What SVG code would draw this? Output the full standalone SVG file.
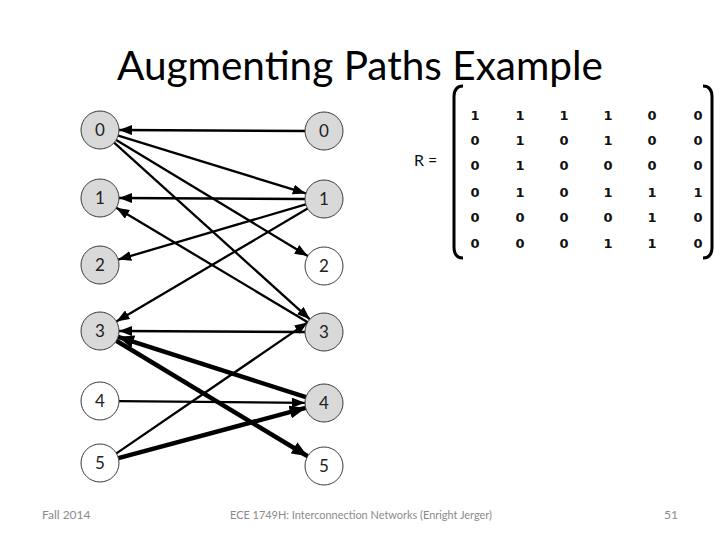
<svg xmlns="http://www.w3.org/2000/svg" width="720" height="540" viewBox="0 0 720 540">
<style>
.node circle{stroke:#3a3a3a;stroke-width:1}
.sh{fill:#d9d9d9}
.wh{fill:#ffffff}
.node text{font-family:Lato,"Open Sans","Liberation Sans",sans-serif;font-size:17px;fill:#222;text-anchor:middle}
.e{stroke:#000;stroke-width:2.3;fill:none;marker-end:url(#a)}
.t{stroke:#000;stroke-width:4.5;fill:none;marker-end:url(#b)}
.m text{font-family:"DejaVu Sans",Verdana,sans-serif;font-size:13px;font-weight:bold;fill:#111;text-anchor:middle}
.f{font-family:Lato,"Open Sans","Liberation Sans",sans-serif;font-size:12px;fill:#8a8a8a}
.r{font-family:Lato,"Open Sans","Liberation Sans",sans-serif;font-size:16px;fill:#111}
</style>
<defs>
<marker id="a" markerUnits="userSpaceOnUse" markerWidth="13" markerHeight="10" refX="13" refY="5" orient="auto"><path d="M0,0 L13,5 L0,10 z" fill="#000"/></marker>
<marker id="b" markerUnits="userSpaceOnUse" markerWidth="16" markerHeight="13" refX="16" refY="6.5" orient="auto"><path d="M0,0 L16,6.5 L0,13 z" fill="#000"/></marker>
</defs>
<rect width="720" height="540" fill="#fff"/>
<text x="360" y="80" font-family="Lato,'Open Sans','Liberation Sans',sans-serif" font-size="41" text-anchor="middle" textLength="486" lengthAdjust="spacingAndGlyphs" fill="#000">Augmenting Paths Example</text>
<g id="connectors">
<line class="e" x1="305" y1="131" x2="119" y2="130"/>
<line class="e" x1="118.2" y1="135.6" x2="305.8" y2="193.4"/>
<line class="e" x1="116.2" y1="139.9" x2="307.8" y2="256.1"/>
<line class="e" x1="114.1" y1="142.7" x2="309.9" y2="319.3"/>
<line class="e" x1="305" y1="199" x2="119" y2="198"/>
<line class="e" x1="307.7" y1="322.2" x2="116.3" y2="207.7"/>
<line class="e" x1="305.8" y1="204.4" x2="118.2" y2="259.6"/>
<line class="e" x1="307.6" y1="208.6" x2="116.4" y2="321.4"/>
<line class="e" x1="305" y1="332" x2="119" y2="331"/>
<line class="t" x1="305.9" y1="397.2" x2="118.1" y2="336.8"/>
<line class="t" x1="116.3" y1="340.8" x2="307.7" y2="456.2"/>
<line class="e" x1="119" y1="401.2" x2="305" y2="402.8"/>
<line class="t" x1="118.4" y1="458.1" x2="305.6" y2="407.9"/>
<line class="e" x1="116.4" y1="453.4" x2="307.6" y2="322.4"/>
</g>
<g id="L0" class="node"><circle class="sh" cx="100" cy="130" r="19"/><text x="100" y="136">0</text></g>
<g id="L1" class="node"><circle class="sh" cx="100" cy="198" r="19"/><text x="100" y="204">1</text></g>
<g id="L2" class="node"><circle class="sh" cx="100" cy="265" r="19"/><text x="100" y="271">2</text></g>
<g id="L3" class="node"><circle class="sh" cx="100" cy="331" r="19"/><text x="100" y="337">3</text></g>
<g id="L4" class="node"><circle class="wh" cx="100" cy="401" r="19"/><text x="100" y="407">4</text></g>
<g id="L5" class="node"><circle class="wh" cx="100" cy="463" r="19"/><text x="100" y="469">5</text></g>
<g id="R0" class="node"><circle class="sh" cx="324" cy="131" r="19"/><text x="324" y="137">0</text></g>
<g id="R1" class="node"><circle class="sh" cx="324" cy="199" r="19"/><text x="324" y="205">1</text></g>
<g id="R2" class="node"><circle class="wh" cx="324" cy="266" r="19"/><text x="324" y="272">2</text></g>
<g id="R3" class="node"><circle class="sh" cx="324" cy="332" r="19"/><text x="324" y="338">3</text></g>
<g id="R4" class="node"><circle class="sh" cx="324" cy="403" r="19"/><text x="324" y="409">4</text></g>
<g id="R5" class="node"><circle class="wh" cx="324" cy="466" r="19"/><text x="324" y="472">5</text></g>
<text class="r" x="414" y="166">R =</text>
<g id="matrix" class="m">
<path d="M463,86 Q454,86 454,97 L454,247 Q454,258 463,258" fill="none" stroke="#000" stroke-width="3"/>
<path d="M703,86 Q712,86 712,97 L712,247 Q712,258 703,258" fill="none" stroke="#000" stroke-width="3"/>
<text x="475" y="120">1</text><text x="520" y="120">1</text><text x="564" y="120">1</text><text x="608" y="120">1</text><text x="652" y="120">0</text><text x="698" y="120">0</text>
<text x="475" y="145">0</text><text x="520" y="145">1</text><text x="564" y="145">0</text><text x="608" y="145">1</text><text x="652" y="145">0</text><text x="698" y="145">0</text>
<text x="475" y="170">0</text><text x="520" y="170">1</text><text x="564" y="170">0</text><text x="608" y="170">0</text><text x="652" y="170">0</text><text x="698" y="170">0</text>
<text x="475" y="197">0</text><text x="520" y="197">1</text><text x="564" y="197">0</text><text x="608" y="197">1</text><text x="652" y="197">1</text><text x="698" y="197">1</text>
<text x="475" y="222">0</text><text x="520" y="222">0</text><text x="564" y="222">0</text><text x="608" y="222">0</text><text x="652" y="222">1</text><text x="698" y="222">0</text>
<text x="475" y="248">0</text><text x="520" y="248">0</text><text x="564" y="248">0</text><text x="608" y="248">1</text><text x="652" y="248">1</text><text x="698" y="248">0</text>
</g>
<text class="f" x="42" y="519">Fall 2014</text>
<text class="f" x="361" y="519" text-anchor="middle" textLength="262" lengthAdjust="spacingAndGlyphs">ECE 1749H: Interconnection Networks (Enright Jerger)</text>
<text class="f" x="671" y="519" text-anchor="middle">51</text>
</svg>
